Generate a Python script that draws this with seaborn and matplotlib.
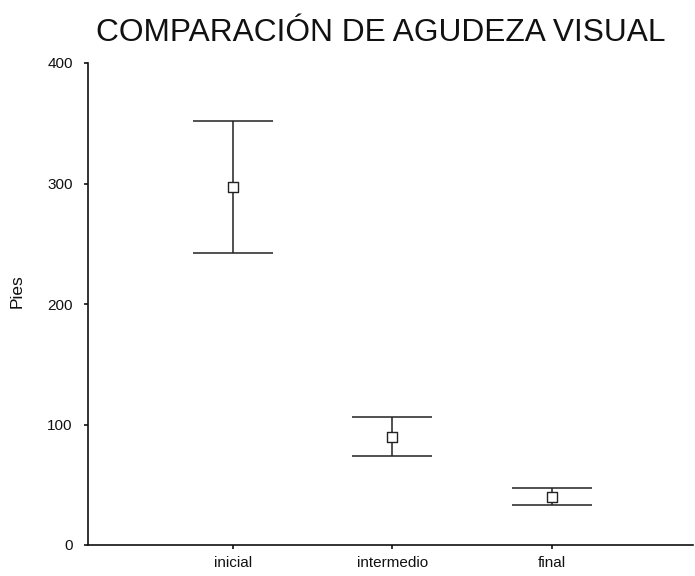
import matplotlib
matplotlib.use("Agg")
import matplotlib.pyplot as plt
import seaborn as sns
import pandas as pd

categories = ["inicial", "intermedio", "final"]
means = [297, 90, 40]
upper = [352, 106, 47]
lower = [242, 74, 33]
yticks = [0, 100, 200, 300, 400]

sns.set_theme(style="ticks")
plt.rcParams["font.family"] = ["Liberation Sans", "DejaVu Sans"]

df = pd.DataFrame({"cat": categories, "mean": means, "up": upper, "lo": lower})

fig = plt.figure(figsize=(6.95, 5.76), dpi=100)
ax = fig.add_axes([88 / 695, 31 / 576, 1 - 88 / 695 - 0.003, (545 - 63) / 576])

pos = list(range(len(categories)))
yerr = [[m - l for m, l in zip(df["mean"], df["lo"])],
        [u - m for m, u in zip(df["mean"], df["up"])]]
ax.errorbar(pos, df["mean"], yerr=yerr, fmt="none", ecolor="#222222",
            elinewidth=1.1, capsize=29, capthick=1.1, zorder=2)
sns.scatterplot(x=pos, y=df["mean"], marker="s", s=42, facecolor="white",
                edgecolor="#222222", linewidth=1.0, ax=ax, zorder=3)

ax.set_xlim(-0.909, 2.884)
ax.set_ylim(0, 400)
ax.set_yticks(yticks)
ax.set_xticks(pos)
ax.set_xticklabels(categories)
ax.tick_params(axis="both", labelsize=11, length=3, width=1.2, colors="#111111")
ax.tick_params(axis="y", pad=8)
ax.tick_params(axis="x", pad=5)
ax.set_xlabel("")
ax.set_ylabel("Pies", fontsize=12.5, color="#111111")
ax.yaxis.set_label_coords(-0.105, 0.527)
for side in ["top", "right"]:
    ax.spines[side].set_visible(False)
for side in ["left", "bottom"]:
    ax.spines[side].set_linewidth(1.2)
    ax.spines[side].set_color("#111111")

fig.text(381 / 695, 1 - 33 / 576, "COMPARACIÓN DE AGUDEZA VISUAL",
         ha="center", va="center", fontsize=22.8, color="#111111")

fig.savefig("out.png", dpi=100)
